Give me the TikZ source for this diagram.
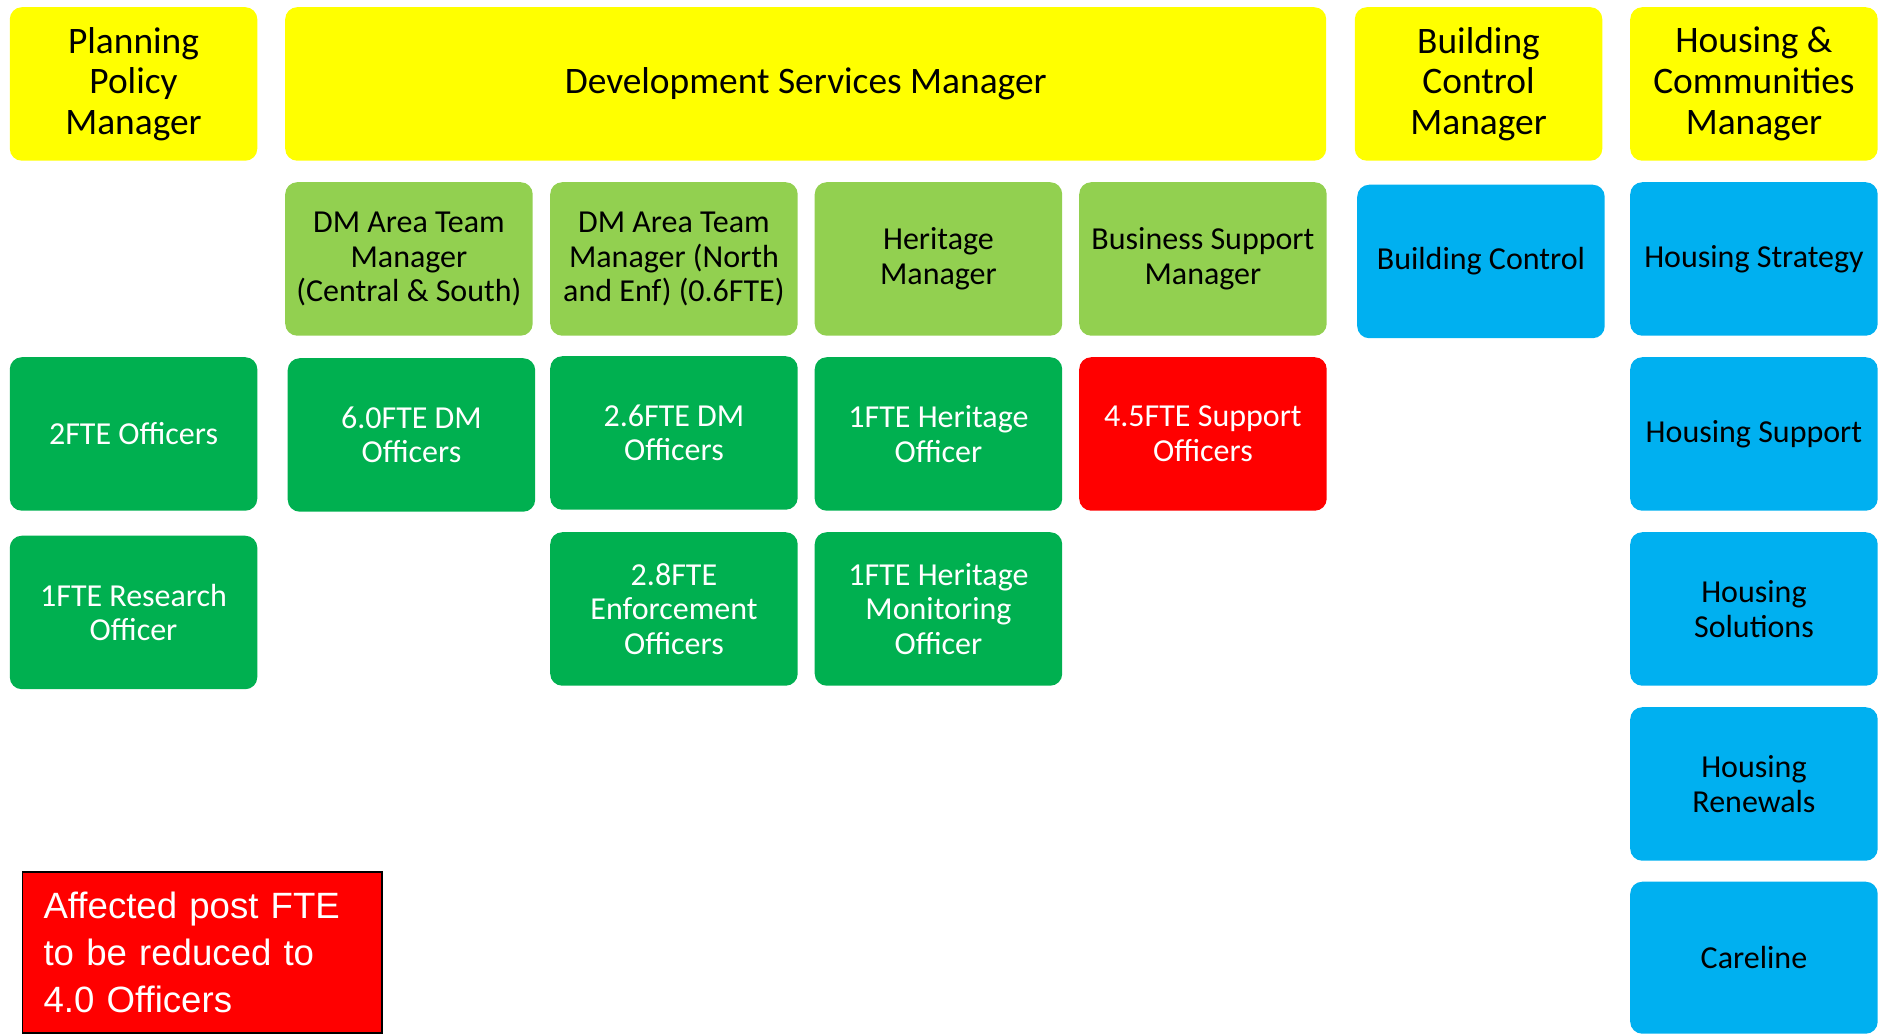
\documentclass[tikz,border=0pt]{standalone}
\usepackage{fontspec}
\setmainfont{Carlito}
\newfontfamily\arialf{Liberation Sans}
\definecolor{cyel}{HTML}{FFFF00}
\definecolor{clgreen}{HTML}{92D050}
\definecolor{cdgreen}{HTML}{00B050}
\definecolor{cred}{HTML}{FF0000}
\definecolor{cblue}{HTML}{00B0F0}
\tikzset{
  box/.style={anchor=north west, rounded corners=12pt, minimum width=247.5pt, minimum height=153.5pt, align=center, inner sep=0pt, draw=none},
  topbox/.style={box, fill=cyel, text=black, font=\fontsize{37.4pt}{40.7pt}\selectfont},
  mgrbox/.style={box, fill=clgreen, text=black, font=\fontsize{32pt}{34.7pt}\selectfont},
  offbox/.style={box, fill=cdgreen, text=white, font=\fontsize{32pt}{34.7pt}\selectfont},
  redbox/.style={box, fill=cred, text=white, font=\fontsize{32pt}{34.7pt}\selectfont},
  bluebox/.style={box, fill=cblue, text=black, font=\fontsize{32pt}{34.7pt}\selectfont},
  legendbox/.style={anchor=north west, fill=cred, draw=black, line width=1.5pt, text=white, minimum width=359.4pt, minimum height=161pt, inner xsep=21pt, inner ysep=0pt, text width=317pt, align=left, font=\arialf\fontsize{36.6pt}{46.7pt}\selectfont}
}
\begin{document}
\begin{tikzpicture}[x=1pt,y=-1pt]
\useasboundingbox (0,0) rectangle (1878,1034);
% top row
\node[topbox] (ppm) at (9.6,7) {Planning\\Policy\\Manager};
\node[topbox, minimum width=1041pt] (dsm) at (285,7) {Development Services Manager};
\node[topbox] (bcm) at (1354.6,7) {Building\\Control\\Manager};
\node[topbox] (hcm) at (1630,7) {Housing \&\\Communities\\Manager};
% row 2
\node[mgrbox] (dmcs) at (285,182) {DM Area Team\\Manager\\(Central \& South)};
\node[mgrbox] (dmn) at (550,182) {DM Area Team\\Manager (North\\and Enf) (0.6FTE)};
\node[mgrbox] (hm) at (814.5,182) {Heritage\\Manager};
\node[mgrbox] (bsm) at (1079,182) {Business Support\\Manager};
\node[bluebox] (bc) at (1357,184.5) {Building Control};
\node[bluebox] (hstr) at (1630,182) {Housing Strategy};
% row 3
\node[offbox] (pp2) at (9.6,357) {2FTE Officers};
\node[offbox] (dm6) at (287.5,358) {6.0FTE DM\\Officers};
\node[offbox] (dm26) at (550,356) {2.6FTE DM\\Officers};
\node[offbox] (ho) at (814.5,357) {1FTE Heritage\\Officer};
\node[redbox] (so) at (1079,357) {4.5FTE Support\\Officers};
\node[bluebox] (hsup) at (1630,357) {Housing Support};
% row 4
\node[offbox] (ro) at (9.6,535.5) {1FTE Research\\Officer};
\node[offbox] (eo) at (550,532) {2.8FTE\\Enforcement\\Officers};
\node[offbox] (hmo) at (814.5,532) {1FTE Heritage\\Monitoring\\Officer};
\node[bluebox] (hsol) at (1630,532) {Housing\\Solutions};
% rows 5-6
\node[bluebox] (hren) at (1630,707) {Housing\\Renewals};
\node[bluebox, minimum height=152pt] (care) at (1630,881.5) {Careline};
% legend
\node[legendbox] (legend) at (21.6,871) {Affected post FTE\\to be reduced to\\4.0 Officers};
\end{tikzpicture}
\end{document}
